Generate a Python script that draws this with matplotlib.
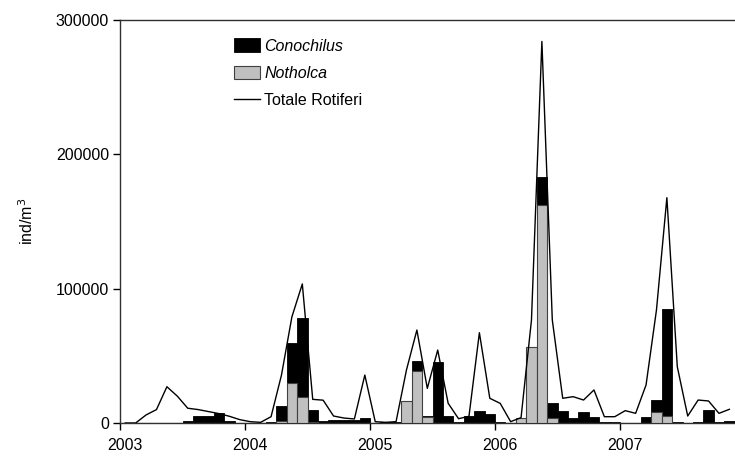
import numpy as np
import matplotlib
matplotlib.use('Agg')
import matplotlib.pyplot as plt
import matplotlib.transforms as mtransforms

plt.rcParams['font.family'] = ['Liberation Sans', 'DejaVu Sans']

# monthly samples, Jan 2003 - Nov 2007
years = [2003, 2004, 2005, 2006, 2007]
totale = [0, 0, 6000, 10000, 27000, 20000, 11000, 10000, 8500, 7000, 5000, 2500,
          1000, 500, 4700, 35700, 79000, 103500, 17600, 17000, 5200, 3700, 3000, 35700,
          1000, 500, 1000, 39500, 69200, 25800, 54300, 14700, 3200, 5000, 67200, 18400,
          14600, 1000, 4000, 76600, 284000, 76700, 18400, 19600, 17100, 24600, 4700, 4700,
          9200, 7200, 28300, 84100, 167700, 41900, 5200, 17100, 16400, 7200, 10200]
conochilus = [0, 0, 0, 0, 0, 0, 1500, 5200, 5200, 7200, 1200, 0,
              0, 0, 500, 12700, 59800, 78400, 9700, 1500, 2000, 2000, 2000, 4000,
              0, 800, 500, 0, 46200, 5000, 45200, 5000, 500, 5000, 9200, 6700,
              1000, 0, 0, 0, 183400, 14600, 8900, 4000, 8000, 4700, 500, 500,
              0, 0, 4200, 17100, 84600, 1000, 0, 500, 9700, 500, 1500]
notholca = [0, 0, 0, 0, 0, 0, 0, 0, 0, 0, 0, 0,
            0, 0, 0, 1500, 29500, 19100, 500, 0, 0, 0, 0, 0,
            0, 0, 0, 16400, 38700, 4700, 0, 0, 0, 0, 0, 0,
            0, 0, 3500, 56800, 162300, 3500, 0, 0, 0, 0, 0, 0,
            0, 0, 0, 8000, 5200, 0, 0, 0, 0, 0, 0]

x = 2003 + (np.arange(len(totale)) + 0.5) / 12.0

fig = plt.figure(figsize=(7.35, 4.58), dpi=100)
ax = fig.add_axes([0.1633, 0.0764, 0.8367, 0.88])

b1 = ax.bar(x, conochilus, width=1 / 12, color='black', edgecolor='black', linewidth=0.6,
            zorder=2)
b2 = ax.bar(x, notholca, width=1 / 12, color='#c0c0c0', edgecolor='#404040', linewidth=0.8,
            zorder=3)
l1, = ax.plot(x, totale, color='black', linewidth=1.0, zorder=4)

ax.set_xlim(2003, 2007.92)
ax.set_ylim(0, 300000)
ax.set_yticks([0, 100000, 200000, 300000])
ax.set_xticks(years)
ax.set_xticklabels([str(y) for y in years])
ax.tick_params(axis='both', direction='out', length=5, width=1, labelsize=11.5, colors='black')
ax.tick_params(axis='x', pad=6)
ax.tick_params(axis='y', pad=3)
off = mtransforms.ScaledTranslation(5 / 100, 0, fig.dpi_scale_trans)
for lab in ax.get_xticklabels():
    lab.set_transform(lab.get_transform() + off)

ax.spines['right'].set_visible(False)
for s in ['left', 'bottom', 'top']:
    ax.spines[s].set_linewidth(1.0)
    ax.spines[s].set_color('#303030')

ax.set_ylabel('ind/m$^3$', fontsize=11.5, labelpad=14)

leg = ax.legend([b1, b2, l1], ['Conochilus', 'Notholca', 'Totale Rotiferi'],
                loc='upper left', bbox_to_anchor=(0.175, 0.97), frameon=False,
                fontsize=11.5, handlelength=1.6, handleheight=0.9, handletextpad=0.3,
                labelspacing=0.75, borderaxespad=0)
leg.get_texts()[0].set_style('italic')
leg.get_texts()[1].set_style('italic')

fig.savefig('out.png', dpi=100)
